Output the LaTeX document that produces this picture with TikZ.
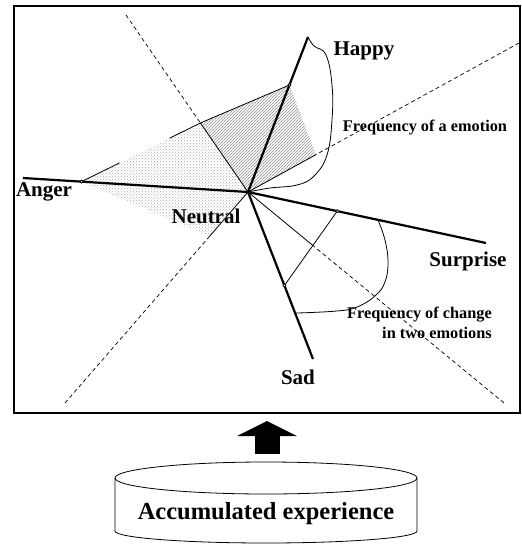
\documentclass[tikz,border=0pt]{standalone}
\usepackage{fontspec}
\setmainfont{Liberation Serif}
\usetikzlibrary{calc,patterns,arrows.meta}

\begin{document}
\begin{tikzpicture}[x=1pt, y=-1pt,
  emoaxis/.style={line width=2.2pt},
  bisector/.style={line width=0.7pt, dash pattern=on 4pt off 3pt},
  guide/.style={line width=0.8pt},
  emo/.style={font=\bfseries\fontsize{21}{24}\selectfont, inner sep=0pt},
  note/.style={font=\bfseries\fontsize{16.3}{20}\selectfont, inner sep=0pt}]
  \useasboundingbox (0,0) rectangle (522,544);
  \node[draw, line width=2pt, minimum width=506.5pt, minimum height=407pt, inner sep=0pt] (panel) at (266.75,209.5) {};
  % axes and bisectors
  \coordinate (O) at (248,192);
  \coordinate (happy) at (308,37);
  \coordinate (anger) at (23,178);
  \coordinate (surprise) at (486,243);
  \coordinate (sad) at (313,359);
  \coordinate (ul) at (126,15);
  \coordinate (ur) at (519,43);
  \coordinate (ll) at (65,403);
  \coordinate (lr) at (504,403);
  \coordinate (hp) at ($(O)!0.69!(happy)$);
  \coordinate (ap) at ($(O)!0.74!(anger)$);
  \coordinate (sp) at ($(O)!0.375!(surprise)$);
  \coordinate (dp) at ($(O)!0.56!(sad)$);
  \coordinate (ulp) at ($(O)!0.39!(ul)$);
  \coordinate (urp) at ($(O)!0.25!(ur)$);
  \coordinate (llp) at ($(O)!0.21!(ll)$);
  \coordinate (lrp) at ($(O)!0.25!(lr)$);
  \coordinate (sl) at ($(O)!0.546!(surprise)$);
  \coordinate (dl) at ($(O)!0.725!(sad)$);
  % shading
  \fill[pattern=crosshatch dots, pattern color=black!32] (ap) -- (ulp) -- (O) -- (llp) -- cycle;
  \fill[pattern=north east lines, pattern color=black!45] (ulp) -- (hp) -- (urp) -- (O) -- cycle;
  \fill[pattern=crosshatch dots, pattern color=black!30] (ulp) -- (hp) -- (urp) -- (O) -- cycle;
  \draw[bisector] (ul) -- (ulp) (ur) -- (urp) (ll) -- (llp) (lr) -- (lrp);
  \draw[guide] (O) -- (ulp) (O) -- (urp) (O) -- (llp) (O) -- (lrp);
  \draw[guide] (ap) -- ($(ap)!0.32!(ulp)$) ($(ap)!0.74!(ulp)$) -- (ulp) -- (hp);
  \draw[guide] (sp) -- (dp);
  \draw[emoaxis] (O) -- (happy) (O) -- (anger) (O) -- (surprise) (O) -- (sad);
  \foreach \p in {ap, hp, sp, dp}
    \draw[guide, fill=white] (\p) circle[radius=1.5pt];
  % frequency loops
  \draw[guide] plot[smooth, tension=0.7] coordinates {(happy) (314,46) (326,55) (332,85) (332,120) (327,155) (314,176) (297,185) (270,188) (O)};
  \draw[guide] plot[smooth, tension=0.7] coordinates {(sl) (385,240) (388,262) (385,282) (375,296) (357,307) (337,311) (dl)};
  \node[emo] (happylbl) at (364,50.5) {Happy};
  \node[emo] (angerlbl) at (44,192) {Anger};
  \node[emo] (neutrallbl) at (206,216.5) {Neutral};
  \node[emo] (surpriselbl) at (468,261) {Surprise};
  \node[emo] (sadlbl) at (298,377.5) {Sad};
  \node[note] (freqone) at (425,127.5) {Frequency of a emotion};
  \node[note, align=right, anchor=east] (freqtwo) at (492,322.5) {Frequency of change\\in two emotions};
  % experience store
  \node[font=\bfseries\fontsize{24.5}{28}\selectfont, inner sep=0pt] (store) at (266,514) {Accumulated experience};
  \draw[guide] (266,478) ellipse[x radius=151, y radius=16];
  \draw[guide] (115,478) -- (115,531) arc[start angle=180, end angle=0, x radius=151, y radius=12] -- (417,478);
  \coordinate (storetop) at (267,454);
  \draw[line width=25pt, -{Triangle[length=15pt, width=59pt]}, shorten >=7pt] (storetop) -- (storetop |- panel.south);
\end{tikzpicture}
\end{document}
